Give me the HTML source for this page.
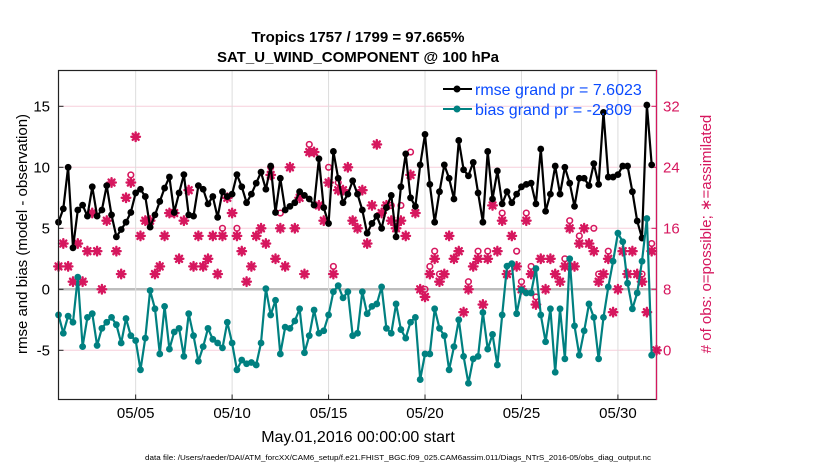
<!DOCTYPE html>
<html><head><meta charset="utf-8"><style>
body{margin:0;background:#fff;}
svg{display:block;font-family:"Liberation Sans",Arial,sans-serif;}
</style></head><body>
<svg id="chart" width="830" height="470" viewBox="0 0 830 470" xmlns="http://www.w3.org/2000/svg">
<rect x="0" y="0" width="830" height="470" fill="#fff"/>
<text x="358" y="42" text-anchor="middle" font-size="15" font-weight="bold">Tropics 1757 / 1799 = 97.665%</text>
<text x="358" y="62" text-anchor="middle" font-size="15" font-weight="bold">SAT_U_WIND_COMPONENT @ 100 hPa</text>
<g id="grid"></g>
<g id="ticks"></g>
<g id="obs"></g>
<g id="lines"></g>
<rect x="58.5" y="70.5" width="598" height="329" fill="none" stroke="#222" stroke-width="1.2"/>
<line x1="656.5" y1="70" x2="656.5" y2="400" stroke="#d6175e" stroke-width="1.2"/>
<g>
<line x1="443" y1="89" x2="472" y2="89" stroke="#000" stroke-width="2"/><circle cx="457" cy="89" r="3.5" fill="#000"/>
<text x="475" y="95" font-size="16" fill="#0a4bff">rmse grand pr = 7.6023</text>
<line x1="443" y1="109" x2="472" y2="109" stroke="#008080" stroke-width="2"/><circle cx="457" cy="109" r="3.5" fill="#008080"/>
<text x="475" y="115" font-size="16" fill="#0a4bff">bias grand pr = -2.809</text>
</g>
<text transform="translate(27,234) rotate(-90)" text-anchor="middle" font-size="15">rmse and bias (model - observation)</text>
<text transform="translate(711,234) rotate(-90)" text-anchor="middle" font-size="15" fill="#d6175e"># of obs: o=possible; ∗=assimilated</text>
<text x="358" y="442" text-anchor="middle" font-size="16">May.01,2016 00:00:00 start</text>
<text x="398" y="460" text-anchor="middle" font-size="7.3" textLength="506" lengthAdjust="spacingAndGlyphs">data file: /Users/raeder/DAI/ATM_forcXX/CAM6_setup/f.e21.FHIST_BGC.f09_025.CAM6assim.011/Diags_NTrS_2016-05/obs_diag_output.nc</text>
</svg>
<script>
const rmse=[5.5,6.6,10.0,3.4,6.5,6.9,6.0,8.4,6.0,6.5,8.5,6.1,4.3,4.9,5.5,6.3,7.9,8.2,7.6,5.1,6.1,7.2,8.3,9.2,6.3,7.9,9.4,6.1,6.0,8.5,8.2,7.0,7.6,5.9,8.0,7.6,7.8,9.4,8.4,7.1,7.8,8.7,9.6,8.2,10.1,6.3,9.1,6.5,6.8,7.1,8.0,7.7,7.4,6.9,10.7,6.7,5.4,11.3,9.1,7.1,7.8,8.9,7.8,6.5,4.6,5.4,6.0,5.0,6.7,7.7,4.3,8.4,11.1,7.5,6.8,10.2,12.7,8.6,5.5,8.0,10.2,9.1,7.4,12.2,9.8,9.3,10.4,7.9,5.5,11.3,7.4,9.7,7.0,8.0,7.1,7.8,8.4,8.6,8.7,7.0,11.5,6.4,7.8,10.1,7.8,10.0,8.7,6.8,9.1,9.1,8.5,10.3,8.6,14.5,9.2,9.2,9.4,10.1,10.1,8.0,5.6,4.2,15.1,10.2];
const bias=[-2.1,-3.6,-2.2,-2.7,1.0,-4.7,-2.3,-2.0,-4.6,-3.2,-2.7,-2.3,-2.9,-4.4,-2.4,-3.8,-4.2,-6.6,-4.0,-0.1,-1.6,-5.3,-1.4,-4.9,-3.5,-3.2,-5.5,-2.0,-3.8,-5.9,-4.7,-3.2,-4.1,-4.4,-4.8,-2.7,-4.4,-6.6,-5.8,-6.1,-6.0,-6.2,-4.4,0.05,-2.1,-0.9,-5.3,-3.1,-3.2,-2.6,-1.6,-5.2,-3.8,-1.7,-3.6,-3.4,-2.1,-0.2,0.3,-0.7,-0.2,-3.8,-3.6,-0.2,-2.0,-1.4,-1.2,0.2,-3.2,-3.6,-1.2,-3.3,-4.0,-2.7,-2.3,-7.4,-5.3,-5.3,-1.6,-3.2,-3.8,-6.6,-4.7,-2.5,-5.5,-7.7,-5.7,-5.5,-1.9,-4.9,-3.7,-6.2,-2.1,1.9,2.1,-2.0,-0.05,-0.3,-0.3,1.7,-2.1,-4.3,-1.6,-6.8,-1.6,-5.7,2.5,-3.0,-5.4,-3.4,-1.2,-2.3,-5.7,-2.3,0.2,2.3,4.6,3.9,0.5,-1.6,-0.3,2.3,5.8,-5.4];
const assimilated=[11,14,11,9,14,9,13,18,13,8,17,22,13,10,20,22,28,15,17,17,10,11,15,18,18,12,17,21,11,15,11,12,15,10,15,20,18,15,13,9,11,15,16,14,23,12,16,11,24,16,20,10,26,26,19,17,22,10,21,21,24,17,16,21,14,19,27,18,19,17,16,17,15,23,18,8,7,10,12,9,10,15,12,13,5,8,11,12,6,12,19,13,17,10,15,11,8,17,10,6,12,8,12,10,9,11,16,11,14,16,14,13,9,10,12,5,8,13,10,13,10,9,5,13,0];
const possible=[11,14,11,9,14,9,13,18,13,8,17,22,13,10,20,23,28,15,17,17,10,11,15,18,18,12,17,21,11,15,11,12,15,10,16,20,18,16,13,9,11,15,16,14,24,12,18,11,24,16,20,10,27,26,19,17,24,11,22,21,24,17,16,21,14,19,27,18,19,19,16,19,15,26,18,8,8,11,13,10,10,15,12,13,5,9,11,13,6,13,19,13,18,10,15,13,9,18,11,7,12,8,12,10,9,12,17,11,15,16,14,16,10,10,13,5,8,13,10,13,10,10,5,14,0];
const leftTicks=[15,10,5,0,-5];
const rightTicks=[32,24,16,8,0];
const dateTicks=[5,10,15,20,25,30];
const dateLabels=["05/05","05/10","05/15","05/20","05/25","05/30"];

const NS="http://www.w3.org/2000/svg";
const X0=58.5,X1=656.5,YT=70.5,YB=399.5;
const dayW=(X1-X0)/31;
function xDay(d){return X0+d*dayW;}
function xIdx(i){return xDay(i*0.25);}
function yL(v){return 289.3-v*12.2;}
function yR(c){return 350.3-c*(61/8);}
function mk(tag,attrs,parent){const e=document.createElementNS(NS,tag);for(const k in attrs)e.setAttribute(k,attrs[k]);parent.appendChild(e);return e;}
const grid=document.getElementById('grid'),ticks=document.getElementById('ticks'),obs=document.getElementById('obs'),lines=document.getElementById('lines');

leftTicks.forEach(v=>{
  const y=yL(v);
  const g=mk('line',{x1:X0,x2:X1,y1:y,y2:y,stroke:v===0?'#bdbdbd':'#f7cfdc','stroke-width':v===0?2.5:1},grid);
  
  
  mk('line',{x1:X0,x2:X0+5,y1:y,y2:y,stroke:'#222'},ticks);
  const t=mk('text',{x:50,y:y+5,'text-anchor':'end','font-size':15},ticks);
  t.textContent=v;
  
  
});
rightTicks.forEach(c=>{
  const y=yR(c);
  mk('line',{x1:X1-5,x2:X1,y1:y,y2:y,stroke:'#d6175e'},ticks);
  const t=mk('text',{x:663,y:y+5,'font-size':15,fill:'#d6175e'},ticks);
  t.textContent=c;
  
  
});
dateTicks.forEach((d,k)=>{
  const x=xDay(d-1);
  const g=mk('line',{x1:x,x2:x,y1:YT,y2:YB,stroke:'#dcdcdc','stroke-width':1},grid);
  
  
  mk('line',{x1:x,x2:x,y1:YB-5,y2:YB,stroke:'#222'},ticks);
  const t=mk('text',{x:x,y:418,'text-anchor':'middle','font-size':15},ticks);
  t.textContent=dateLabels[k];
  
  
});

function star(x,y){
  const r=4.3,q=3.0;
  return `M${x},${y-r}L${x},${y+r}M${x-r},${y}L${x+r},${y}M${x-q},${y-q}L${x+q},${y+q}M${x-q},${y+q}L${x+q},${y-q}`;
}
assimilated.forEach((c,i)=>{
  const x=xIdx(i);
  if(possible[i]>c){
    const o=mk('circle',{cx:x,cy:yR(possible[i]),r:2.8,fill:'none',stroke:'#d6175e','stroke-width':1.6},obs);
    
    
  }
  const s=mk('path',{d:star(x,yR(c)),stroke:'#d6175e','stroke-width':2.4,'stroke-linecap':'round'},obs);
  
  
});

function series(vals,color,name){
  const pts=vals.map((v,i)=>xIdx(i).toFixed(1)+','+yL(v).toFixed(1)).join(' ');
  const p=mk('polyline',{points:pts,fill:'none',stroke:color,'stroke-width':2.2,'stroke-linejoin':'round'},lines);
  
  
  vals.forEach((v,i)=>{
    const c=mk('circle',{cx:xIdx(i),cy:yL(v),r:3.4,fill:color},lines);
    
    
  });
}
series(rmse,'#000','rmse');
series(bias,'#008080','bias');
</script>
</body></html>
